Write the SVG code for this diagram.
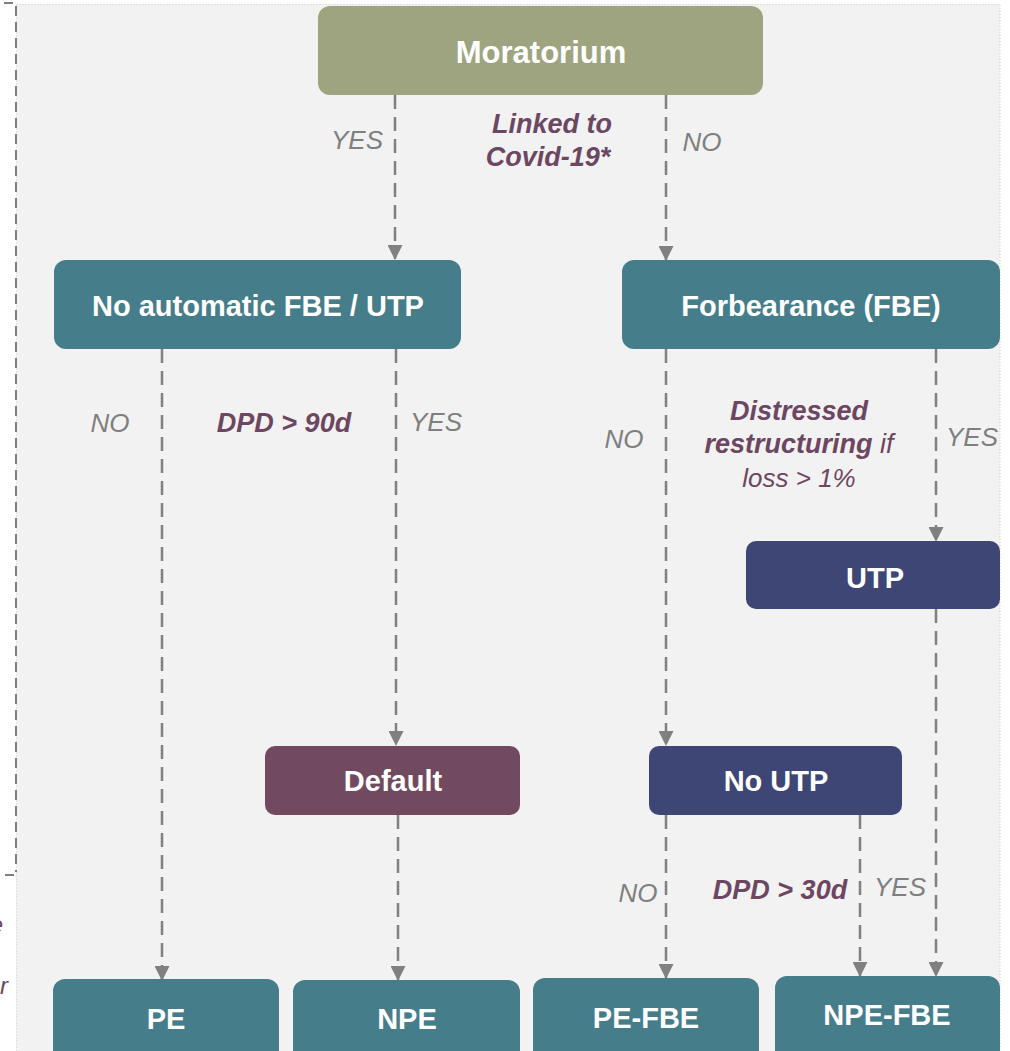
<svg xmlns="http://www.w3.org/2000/svg" width="1010" height="1051" viewBox="0 0 1010 1051">
<defs>
<marker id="ah" viewBox="0 0 15 15" refX="14" refY="7.5" markerWidth="15" markerHeight="15" markerUnits="userSpaceOnUse" orient="auto">
<path d="M0,0 L15,7.5 L0,15 Z" fill="#808080"/>
</marker>
<style>
.node text{font-family:"Liberation Sans",Arial,sans-serif;font-weight:bold;fill:#ffffff;text-anchor:middle;font-size:29px}
.teal{fill:#467d8b}
.navy{fill:#3d4674}
.plum{fill:#724a60}
.olive{fill:#9ea480}
.conn line{stroke:#808080;stroke-width:2.5;stroke-dasharray:14 8;fill:none}
.lbl{font-family:"Liberation Sans",Arial,sans-serif;font-style:italic;font-size:26px;fill:#7f7f7f;text-anchor:middle}
.cond{font-family:"Liberation Sans",Arial,sans-serif;font-style:italic;font-weight:bold;font-size:27px;fill:#6d4661;text-anchor:middle}
</style>
</defs>
<rect x="0" y="0" width="1010" height="1051" fill="#ffffff"/>
<rect x="16.5" y="4.5" width="983.5" height="1050" fill="#f2f2f2" stroke="#c8c8c8" stroke-width="1" stroke-dasharray="1 2"/>
<g id="bracket" stroke="#808080" stroke-width="2" fill="none">
<line x1="4" y1="3" x2="13" y2="3"/>
<line x1="16" y1="6" x2="16" y2="872" stroke-dasharray="10 6"/>
<line x1="5" y1="875" x2="14" y2="875"/>
</g>
<text x="3" y="933" font-family="Liberation Sans,Arial,sans-serif" font-style="italic" font-size="24" fill="#6d4661" text-anchor="end">e</text>
<text x="8" y="994" font-family="Liberation Sans,Arial,sans-serif" font-style="italic" font-size="24" fill="#6d4661" text-anchor="end">r</text>

<g class="conn">
<line x1="395" y1="95" x2="395" y2="259" marker-end="url(#ah)"/>
<line x1="666" y1="95" x2="666" y2="260" marker-end="url(#ah)"/>
<line x1="162" y1="349" x2="162" y2="980" marker-end="url(#ah)"/>
<line x1="396" y1="349" x2="396" y2="745" marker-end="url(#ah)"/>
<line x1="666" y1="349" x2="666" y2="745" marker-end="url(#ah)"/>
<line x1="936" y1="349" x2="936" y2="541" marker-end="url(#ah)"/>
<line x1="936" y1="609" x2="936" y2="976" marker-end="url(#ah)"/>
<line x1="666" y1="815" x2="666" y2="978" marker-end="url(#ah)"/>
<line x1="860" y1="815" x2="860" y2="976" marker-end="url(#ah)"/>
<line x1="398" y1="815" x2="398" y2="980" marker-end="url(#ah)"/>
</g>

<g id="labels">
<text class="lbl" x="357" y="149">YES</text>
<text class="lbl" x="702" y="151">NO</text>
<text class="cond" x="552" y="133">Linked to</text>
<text class="cond" x="548" y="166">Covid-19*</text>
<text class="lbl" x="110" y="432">NO</text>
<text class="cond" x="284" y="432">DPD &gt; 90d</text>
<text class="lbl" x="436" y="431">YES</text>
<text class="lbl" x="624" y="448">NO</text>
<text class="cond" x="799" y="420">Distressed</text>
<text class="cond" x="799" y="453">restructuring <tspan font-weight="normal">if</tspan></text>
<text class="lbl" x="799" y="487" style="fill:#6d4661">loss &gt; 1%</text>
<text class="lbl" x="972" y="446">YES</text>
<text class="lbl" x="638" y="902">NO</text>
<text class="cond" x="780" y="899">DPD &gt; 30d</text>
<text class="lbl" x="900" y="896">YES</text>
</g>

<g id="moratorium" class="node">
<rect class="olive" x="318" y="6" width="445" height="89" rx="12"/>
<text x="541" y="63" style="font-size:31px">Moratorium</text>
</g>
<g id="no-auto" class="node">
<rect class="teal" x="54" y="260" width="407" height="89" rx="12"/>
<text x="258" y="316">No automatic FBE / UTP</text>
</g>
<g id="forbearance" class="node">
<rect class="teal" x="622" y="260" width="378" height="89" rx="12"/>
<text x="811" y="316">Forbearance (FBE)</text>
</g>
<g id="utp" class="node">
<rect class="navy" x="746" y="541" width="254" height="68" rx="10"/>
<text x="875" y="588">UTP</text>
</g>
<g id="default" class="node">
<rect class="plum" x="265" y="746" width="255" height="69" rx="10"/>
<text x="393" y="791">Default</text>
</g>
<g id="no-utp" class="node">
<rect class="navy" x="649" y="746" width="253" height="69" rx="10"/>
<text x="776" y="791">No UTP</text>
</g>
<g id="pe" class="node">
<rect class="teal" x="53" y="979" width="226" height="90" rx="12"/>
<text x="166" y="1029">PE</text>
</g>
<g id="npe" class="node">
<rect class="teal" x="293" y="980" width="227" height="90" rx="12"/>
<text x="407" y="1029">NPE</text>
</g>
<g id="pe-fbe" class="node">
<rect class="teal" x="533" y="978" width="226" height="90" rx="12"/>
<text x="646" y="1028">PE-FBE</text>
</g>
<g id="npe-fbe" class="node">
<rect class="teal" x="775" y="976" width="225" height="90" rx="12"/>
<text x="887" y="1025">NPE-FBE</text>
</g>
</svg>
